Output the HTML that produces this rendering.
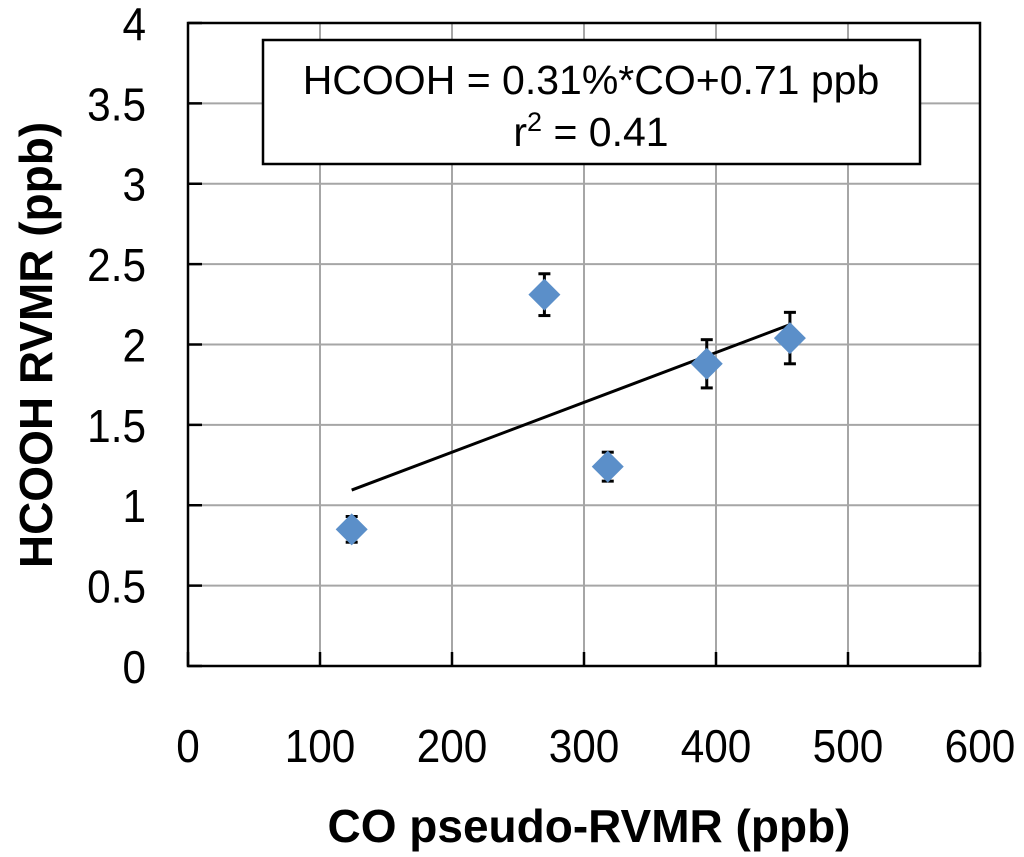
<!DOCTYPE html>
<html><head><meta charset="utf-8"><style>
html,body{margin:0;padding:0;background:#fff;}
svg{display:block;font-family:"Liberation Sans",Arial,sans-serif;}
</style></head><body>
<svg id="chart" width="1024" height="857" viewBox="0 0 1024 857"></svg>
<script>
const xTicks=[0,100,200,300,400,500,600];
const yTicks=[0,0.5,1,1.5,2,2.5,3,3.5,4];
const yTickLabels=["0","0.5","1","1.5","2","2.5","3","3.5","4"];
const xValues=[124,270,318,393,456];
const yValues=[0.85,2.31,1.24,1.88,2.04];
const yErrors=[0.08,0.13,0.09,0.15,0.16];
const slope=0.0031, intercept=0.71;

const X0=188,X1=980,Y0=666,Y1=23;
const sx=v=>X0+(v-0)/(600-0)*(X1-X0);
const sy=v=>Y0-(v-0)/(4-0)*(Y0-Y1);
const svg=document.getElementById('chart');
const NS='http://www.w3.org/2000/svg';
function mk(tag,attrs,parent){const e=document.createElementNS(NS,tag);for(const k in attrs)e.setAttribute(k,attrs[k]);(parent||svg).appendChild(e);return e;}

const grid=mk('g',{});


xTicks.slice(1,-1).forEach(t=>{mk('line',{x1:sx(t),x2:sx(t),y1:Y1,y2:Y0,stroke:'#a6a6a6','stroke-width':2},grid);});
yTicks.slice(1,-1).forEach(t=>{mk('line',{x1:X0,x2:X1,y1:sy(t),y2:sy(t),stroke:'#a6a6a6','stroke-width':2},grid);});

const frame=mk('rect',{x:X0,y:Y1,width:X1-X0,height:Y0-Y1,fill:'none',stroke:'#000','stroke-width':2.5});



xTicks.forEach(t=>{
  mk('line',{x1:sx(t),x2:sx(t),y1:Y0-14,y2:Y0,stroke:'#000','stroke-width':2.5});
  const tx=mk('text',{x:sx(t),y:762,'text-anchor':'middle','font-size':46,fill:'#000',transform:`translate(${sx(t)*0.08},0) scale(0.92,1)`});
  tx.textContent=t;
  
  
});
yTicks.forEach((t,i)=>{
  mk('line',{x1:X0,x2:X0+14,y1:sy(t),y2:sy(t),stroke:'#000','stroke-width':2.5});
  const tx=mk('text',{x:146,y:sy(t)+17,'text-anchor':'end','font-size':46,fill:'#000',transform:`translate(${146*0.08},0) scale(0.92,1)`});
  tx.textContent=yTickLabels[i];
  
  
});

const xt=mk('text',{x:589,y:842,'text-anchor':'middle','font-size':46,'font-weight':'bold',fill:'#000'});
xt.textContent='CO pseudo-RVMR (ppb)';


const yt=mk('text',{x:0,y:0,'text-anchor':'middle','font-size':46,'font-weight':'bold',fill:'#000',transform:'translate(52,345) rotate(-90)'});
yt.textContent='HCOOH RVMR (ppb)';



const xmin=Math.min(...xValues),xmax=Math.max(...xValues);
const tl=mk('line',{x1:sx(xmin),y1:sy(slope*xmin+intercept),x2:sx(xmax),y2:sy(slope*xmax+intercept),stroke:'#000','stroke-width':3});



xValues.forEach((xv,i)=>{
  const g=mk('g',{});
  
  
  const cx=sx(xv),cy=sy(yValues[i]);
  const hi=sy(yValues[i]+yErrors[i]),lo=sy(yValues[i]-yErrors[i]);
  mk('line',{x1:cx,x2:cx,y1:hi,y2:lo,stroke:'#000','stroke-width':3},g);
  mk('line',{x1:cx-6,x2:cx+6,y1:hi,y2:hi,stroke:'#000','stroke-width':3},g);
  mk('line',{x1:cx-6,x2:cx+6,y1:lo,y2:lo,stroke:'#000','stroke-width':3},g);
  const r=16;
  mk('polygon',{points:`${cx},${cy-r} ${cx+r},${cy} ${cx},${cy+r} ${cx-r},${cy}`,fill:'#5b8fc9'},g);
});

const lg=mk('g',{});


mk('rect',{x:263,y:40,width:657,height:124,fill:'#fff',stroke:'#000','stroke-width':2.5},lg);
const l1=mk('text',{x:591,y:94,'text-anchor':'middle','font-size':41,fill:'#000'},lg);
l1.textContent='HCOOH = 0.31%*CO+0.71 ppb';
const l2=mk('text',{x:591,y:146,'text-anchor':'middle','font-size':41,fill:'#000'},lg);
l2.innerHTML='r<tspan dy="-15" font-size="27">2</tspan><tspan dy="15"> = 0.41</tspan>';
</script>
</body></html>
